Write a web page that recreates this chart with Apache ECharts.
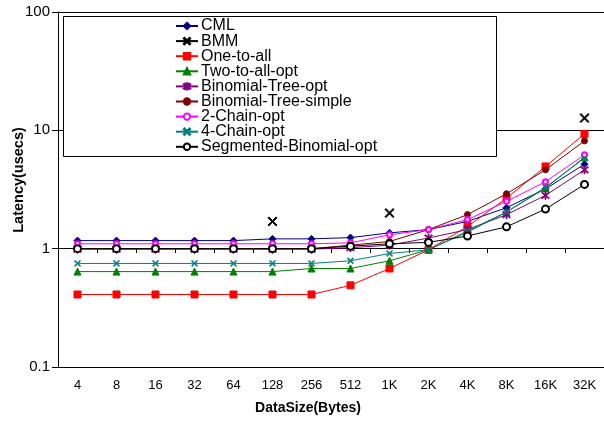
<!DOCTYPE html>
<html><head><meta charset="utf-8">
<script src="https://cdn.jsdelivr.net/npm/echarts@6/dist/echarts.min.js"></script>
<style>html,body{margin:0;padding:0;background:#fff}#c{width:604px;height:423px}</style>
</head><body><div id="c"></div>
<script>
const categories = ['4','8','16','32','64','128','256','512','1K','2K','4K','8K','16K','32K'];
const yTicks = [0.1, 1, 10, 100];
const cml      = [1.17,1.17,1.17,1.17,1.17,1.21,1.21,1.24,1.36,1.45,1.70,2.22,3.20,5.17];
const bmm      = [null,null,null,null,null,1.70,null,null,2.00,null,null,null,null,12.7];
const oneToAll = [0.41,0.41,0.41,0.41,0.41,0.41,0.41,0.49,0.68,0.98,1.54,2.67,4.95,9.34];
const twoToAll = [0.64,0.64,0.64,0.64,0.64,0.64,0.68,0.68,0.79,0.98,1.38,2.04,3.25,5.93];
const binOpt   = [0.99,0.99,0.99,0.99,0.99,0.99,0.99,1.02,1.07,1.23,1.45,1.94,2.82,4.64];
const binSimple= [1.00,1.00,1.00,1.00,1.00,1.00,1.00,1.07,1.15,1.45,1.94,2.91,4.64,8.15];
const chain2   = [1.10,1.10,1.10,1.10,1.10,1.10,1.10,1.12,1.31,1.45,1.76,2.51,3.68,6.21];
const chain4   = [0.75,0.75,0.75,0.75,0.75,0.75,0.75,0.79,0.91,0.98,1.41,2.04,3.30,5.82];
const segBin   = [1.00,1.00,1.00,1.00,1.00,1.00,1.00,1.05,1.10,1.13,1.28,1.53,2.16,3.49];
const xTitle = 'DataSize(Bytes)';
const yTitle = 'Latency(usecs)';

const X_PATH = 'path://M0,1 L1,0 L5,4 L9,0 L10,1 L6,5 L10,9 L9,10 L5,6 L1,10 L0,9 L4,5 Z';
const STAR_PATH = 'path://M0,1 L1,0 L5,4 L9,0 L10,1 L6,5 L10,9 L9,10 L5,6 L1,10 L0,9 L4,5 Z M4.4,-1 L5.6,-1 L5.6,11 L4.4,11 Z';
const FONT = 'Liberation Sans';

function mk(name, data, color, symbol, size, extra) {
  return Object.assign({
    name, type: 'line', data, xAxisIndex: 0, yAxisIndex: 0,
    symbol, symbolSize: size, showAllSymbol: true,
    connectNulls: false, animation: false,
    lineStyle: { color, width: 1 },
    itemStyle: { color, borderColor: color, borderWidth: 1 }
  }, extra || {});
}

const series = [
  mk('CML', cml, '#000080', 'diamond', 7),
  mk('BMM', bmm, '#000000', X_PATH, 9),
  mk('One-to-all', oneToAll, '#FF0000', 'rect', 7),
  mk('Two-to-all-opt', twoToAll, '#008000', 'triangle', 7),
  mk('Binomial-Tree-opt', binOpt, '#800080', STAR_PATH, 8),
  mk('Binomial-Tree-simple', binSimple, '#800000', 'circle', 6),
  mk('2-Chain-opt', chain2, '#FF00FF', 'emptyCircle', 5, {itemStyle:{color:'#FF00FF', borderColor:'#FF00FF', borderWidth:1.5}}),
  mk('4-Chain-opt', chain4, '#008080', X_PATH, 6),
  mk('Segmented-Binomial-opt', segBin, '#000000', 'emptyCircle', 7)
];

const chart = echarts.init(document.getElementById('c'), null, {renderer: 'canvas'});
chart.setOption({
  animation: false,
  backgroundColor: '#fff',
  grid: { left: 58, top: 12, width: 549, bottom: 56, containLabel: false },
  xAxis: [{
    type: 'category', data: categories, position: 'bottom',
    axisLine: { show: false }, axisTick: { show: false },
    axisLabel: { color: '#000', fontSize: 13, fontFamily: FONT, margin: 12, interval: 0 }
  }, {
    type: 'category', data: categories, position: 'bottom', offset: -119,
    axisLine: { show: true, lineStyle: { color: '#000', width: 1 } },
    axisTick: { show: true, length: 5, lineStyle: { color: '#000' } },
    axisLabel: { show: false }, splitLine: { show: false }
  }],
  yAxis: {
    type: 'log', logBase: 10, min: 0.1, max: 100,
    axisLine: { show: true, lineStyle: { color: '#000', width: 1 } },
    axisTick: { show: true, length: 6, lineStyle: { color: '#000' } },
    axisLabel: { color: '#000', fontSize: 15, fontFamily: FONT, margin: 8,
      formatter: v => { const r = yTicks.find(t => Math.abs(t - v) / t < 1e-6); return r === undefined ? '' : String(r); } },
    splitLine: { show: true, lineStyle: { color: '#000', width: 1 } }
  },
  graphic: [{
    type: 'rect', z: 3, shape: { x: 63.5, y: 16.5, width: 433, height: 140 },
    style: { fill: '#fff', stroke: '#000', lineWidth: 1 }
  }, {
    type: 'text', z: 5, x: 308, y: 408,
    style: { text: xTitle, fill: '#000', font: 'bold 14px "Liberation Sans"', textAlign: 'center', textVerticalAlign: 'middle' }
  }, {
    type: 'text', z: 5, x: 19, y: 180, rotation: Math.PI / 2,
    style: { text: yTitle, fill: '#000', font: 'bold 14.5px "Liberation Sans"', textAlign: 'center', textVerticalAlign: 'middle' }
  }],
  legend: {
    orient: 'vertical', left: 175, top: 18, z: 5,
    itemWidth: 22, itemHeight: 8, itemGap: -0.9, padding: 0,
    textStyle: { color: '#000', fontSize: 16, lineHeight: 14.9, fontFamily: FONT, padding: [0, 0, 0, -2] },
    data: series.map(s => s.name)
  },
  series
});
</script></body></html>
